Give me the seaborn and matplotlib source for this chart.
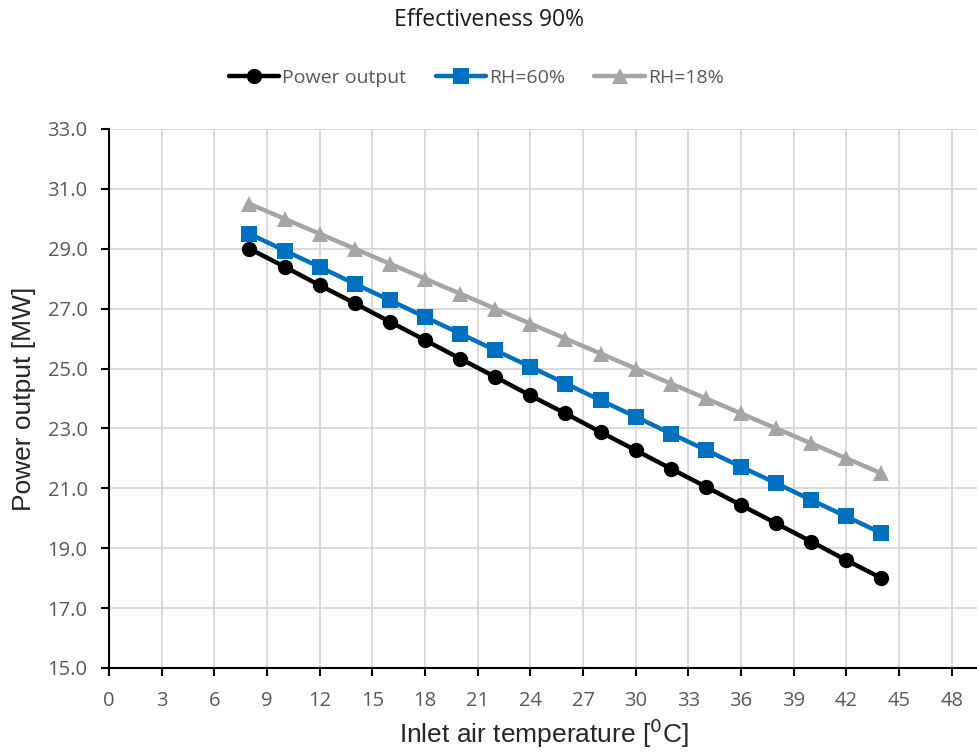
import matplotlib
matplotlib.use("Agg")
import matplotlib.pyplot as plt
import seaborn as sns
import pandas as pd

temps = [8, 10, 12, 14, 16, 18, 20, 22, 24, 26, 28, 30, 32, 34, 36, 38, 40, 42, 44]
power_output = [29.0, 28.4, 27.78, 27.18, 26.56, 25.95, 25.33, 24.72, 24.1, 23.5,
                22.88, 22.27, 21.66, 21.05, 20.44, 19.83, 19.22, 18.6, 18.0]
rh60 = [29.5, 28.94, 28.39, 27.83, 27.28, 26.72, 26.17, 25.61, 25.06, 24.5,
        23.94, 23.39, 22.83, 22.28, 21.72, 21.17, 20.61, 20.06, 19.5]
rh18 = [30.5, 30.0, 29.5, 29.0, 28.5, 28.0, 27.5, 27.0, 26.5, 26.0,
        25.5, 25.0, 24.5, 24.0, 23.5, 23.0, 22.5, 22.0, 21.5]
series_names = ["Power output", "RH=60%", "RH=18%"]
x_ticks = list(range(0, 49, 3))
y_ticks = [15.0, 17.0, 19.0, 21.0, 23.0, 25.0, 27.0, 29.0, 31.0, 33.0]

sns.set_theme(style="white")
plt.rcParams['font.family'] = ['Open Sans', 'DejaVu Sans']
plt.rcParams['xtick.major.pad'] = 11
plt.rcParams['ytick.major.pad'] = 10

df = pd.DataFrame({
    "T": temps * 3,
    "P": power_output + rh60 + rh18,
    "series": [series_names[0]] * len(temps) + [series_names[1]] * len(temps) + [series_names[2]] * len(temps),
})

fig = plt.figure(figsize=(9.78, 7.53), dpi=100)
ax = fig.add_axes([0.1115, 0.1129, 0.8885, 0.7158])

palette = {"Power output": "#000000", "RH=60%": "#0070c0", "RH=18%": "#a5a5a5"}
markers = {"Power output": "o", "RH=60%": "s", "RH=18%": "^"}
sns.lineplot(data=df, x="T", y="P", hue="series", style="series",
             palette=palette, markers=markers, dashes=False,
             linewidth=3.2, markersize=11, markeredgewidth=0, ax=ax,
             hue_order=series_names, style_order=series_names)

ax.set_xlim(0, 49.5)
ax.set_ylim(15, 33)
ax.set_xticks(x_ticks)
ax.set_yticks(y_ticks)
ax.set_yticklabels([f"{v:.1f}" for v in y_ticks])
ax.grid(True, color="#d9d9d9", linewidth=1.4)
ax.set_axisbelow(True)
for s in ["top", "right"]:
    ax.spines[s].set_visible(False)
for s in ["left", "bottom"]:
    ax.spines[s].set_color("black")
    ax.spines[s].set_linewidth(1.5)
ax.tick_params(axis="both", which="major", direction="out", length=5.5, width=1.5,
               color="black", labelsize=14.5, labelcolor="#595959",
               bottom=True, left=True)
ax.tick_params(axis="y", pad=10)
ax.tick_params(axis="x", pad=11)

ax.set_xlabel("Inlet air temperature [$^{0}$C]", fontsize=19, family=["Liberation Sans"], labelpad=4)
ax.set_ylabel("Power output [MW]", fontsize=19, family=["Liberation Sans"], labelpad=8)

fig.text(0.5, 0.973, "Effectiveness 90%", ha="center", va="center", fontsize=16.5, color="#1a1a1a")

handles, labels = ax.get_legend_handles_labels()
leg = ax.legend(handles, labels, loc="center", bbox_to_anchor=(0.487, 0.897),
                bbox_transform=fig.transFigure, ncol=3, frameon=False,
                fontsize=14, handlelength=2.6, handletextpad=0.15, columnspacing=1.5)
for t in leg.get_texts():
    t.set_color("#595959")

fig.savefig("out.png", dpi=100)
